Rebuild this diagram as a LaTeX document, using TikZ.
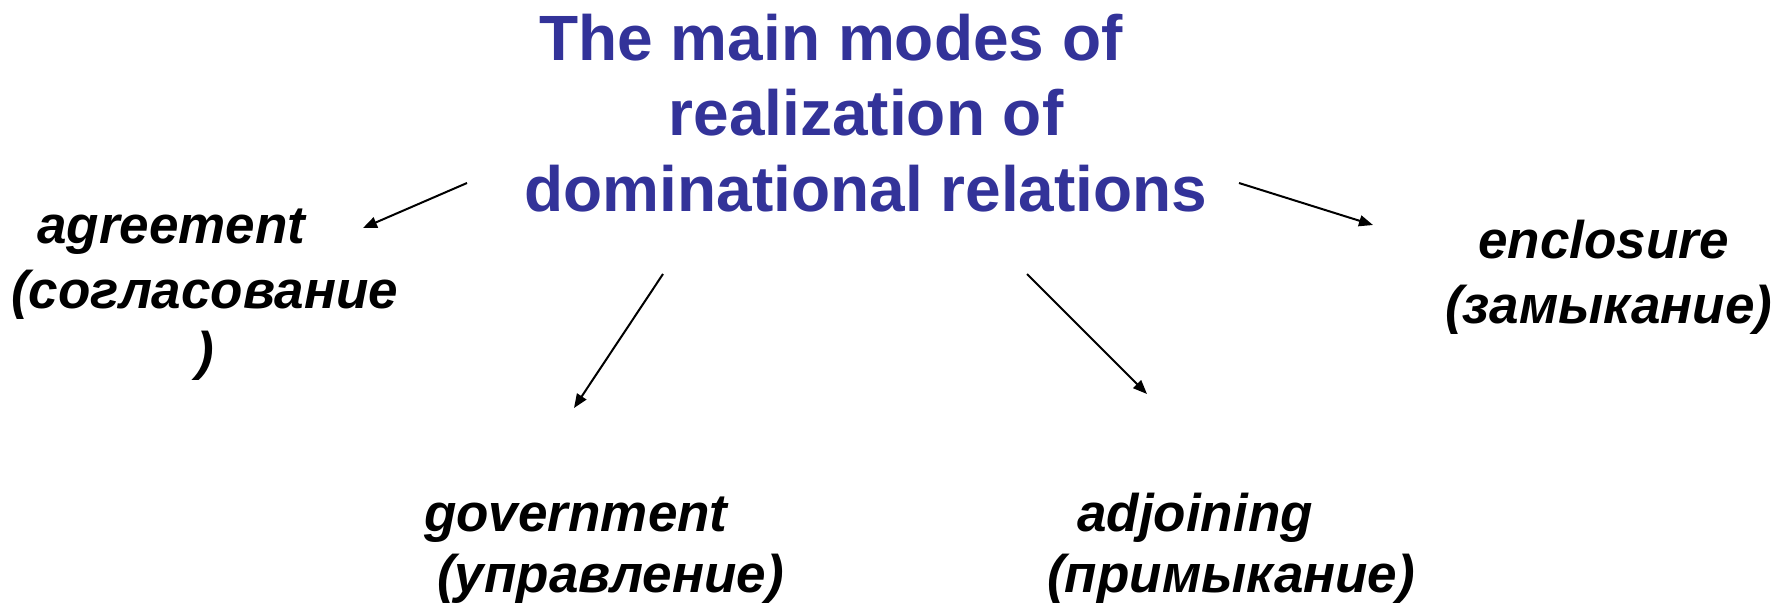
\documentclass[tikz,border=0pt]{standalone}
\usepackage{fontspec}
\setmainfont{Liberation Sans}
\usetikzlibrary{arrows.meta}
\definecolor{titleblue}{HTML}{333399}
\begin{document}
\begin{tikzpicture}[x=1pt,y=-1pt,
  titletext/.style={font=\fontsize{64}{76}\selectfont\bfseries, text=titleblue, inner sep=0pt, anchor=base},
  labeltext/.style={font=\fontsize{53}{64}\selectfont\bfseries\itshape, text=black, inner sep=0pt, anchor=base west},
  conn/.style={line width=2pt, -{Triangle[length=14pt,width=11pt]}}]
\useasboundingbox (0,0) rectangle (1790,605);
\node[titletext] (t1) at (831,60) {The main modes of};
\node[titletext] (t2) at (866,135) {realization of};
\node[titletext] (t3) at (866,211) {dominational relations};

\node[labeltext] (ag1) at (37,243) {agreement};
\node[labeltext] (ag2) at (11,308) {(согласование};
\node[labeltext] (ag3) at (196,369) {)};

\node[labeltext] (gv1) at (424,531) {government};
\node[labeltext] (gv2) at (437,592) {(управление)};

\node[labeltext] (ad1) at (1077,531) {adjoining};
\node[labeltext] (ad2) at (1047,592) {(примыкание)};

\node[labeltext] (en1) at (1478,258) {enclosure};
\node[labeltext] (en2) at (1445,323) {(замыкание)};

\coordinate (s1) at (467,183);
\coordinate (e1) at (363,228);
\coordinate (s2) at (663,274);
\coordinate (e2) at (574,408);
\coordinate (s3) at (1027,274);
\coordinate (e3) at (1147,394);
\coordinate (s4) at (1239,183);
\coordinate (e4) at (1373,225);
\draw[conn] (s1) -- (e1);
\draw[conn] (s2) -- (e2);
\draw[conn] (s3) -- (e3);
\draw[conn] (s4) -- (e4);
\end{tikzpicture}
\end{document}
